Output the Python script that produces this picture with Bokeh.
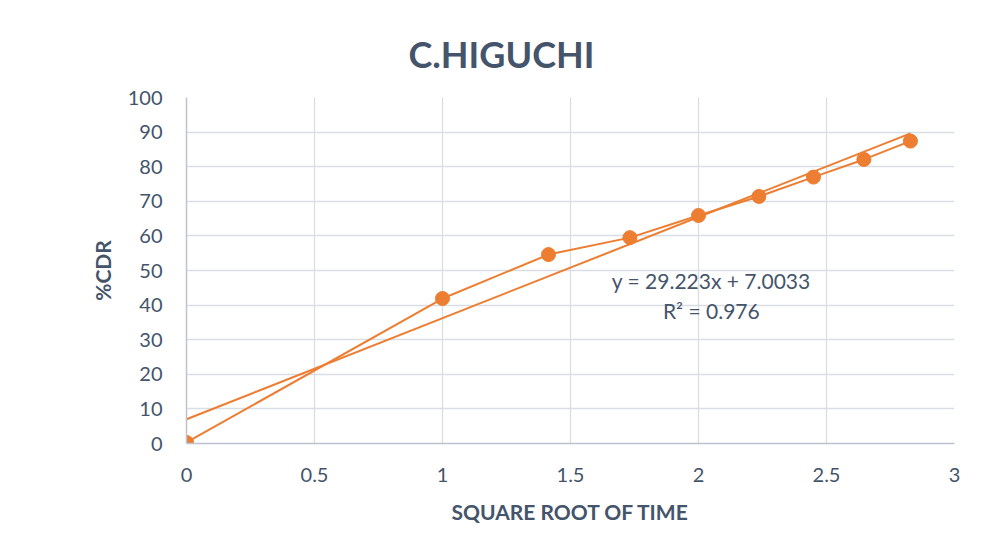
from bokeh.plotting import figure
from bokeh.models import Label, Range1d, FixedTicker, Title
from bokeh.embed import file_html
from bokeh.resources import INLINE

# data
sqrt_time = [0, 1, 1.414, 1.732, 2, 2.236, 2.449, 2.646, 2.828]
cdr = [0.3, 41.9, 54.6, 59.5, 65.9, 71.4, 77.0, 82.1, 87.4]
slope = 29.223
intercept = 7.0033
r2 = 0.976
x_ticks = [0, 0.5, 1, 1.5, 2, 2.5, 3]
y_ticks = [0, 10, 20, 30, 40, 50, 60, 70, 80, 90, 100]

ORANGE = "#ED7D31"
TEXT = "#44546A"
GRID = "#D9DEE6"
FONT = "Lato"

p = figure(width=984, height=538, output_backend="svg", toolbar_location=None,
           x_range=Range1d(0, 3), y_range=Range1d(0, 100),
           min_border_left=186, min_border_right=30,
           min_border_top=97, min_border_bottom=95)
p.outline_line_color = None
p.background_fill_color = "white"
p.border_fill_color = "white"

t = Title(text="C.HIGUCHI", align="left", offset=222, vertical_align="top",
          text_font=FONT, text_font_size="36px", text_font_style="bold",
          text_color=TEXT, standoff=40)
p.add_layout(t, "above")

p.xaxis.ticker = FixedTicker(ticks=x_ticks)
p.yaxis.ticker = FixedTicker(ticks=y_ticks)
p.xaxis.major_label_overrides = {0: "0", 0.5: "0.5", 1: "1", 1.5: "1.5", 2: "2", 2.5: "2.5", 3: "3"}

for ax in (p.xaxis, p.yaxis):
    ax.axis_line_color = "#BCC3CE"
    ax.axis_line_width = 1.5
    ax.major_tick_line_color = None
    ax.minor_tick_line_color = None
    ax.major_label_text_font = FONT
    ax.major_label_text_font_size = "20px"
    ax.major_label_text_color = TEXT
    ax.axis_label_text_font = FONT
    ax.axis_label_text_font_style = "bold"
    ax.axis_label_text_font_size = "21px"
    ax.axis_label_text_color = TEXT

p.xaxis.axis_label = "SQUARE ROOT OF TIME"
p.yaxis.axis_label = "%CDR"
p.xaxis.major_label_standoff = 18
p.yaxis.major_label_standoff = 18
p.xaxis.axis_label_standoff = 14
p.yaxis.axis_label_standoff = 10

p.xgrid.grid_line_color = GRID
p.ygrid.grid_line_color = GRID
p.xgrid.grid_line_width = 1.3
p.ygrid.grid_line_width = 1.3

# trendline from displayed equation
tx = [0, max(sqrt_time)]
ty = [intercept + slope * v for v in tx]
p.line(tx, ty, line_color=ORANGE, line_width=2)

p.line(sqrt_time, cdr, line_color=ORANGE, line_width=2)
p.scatter(sqrt_time, cdr, size=14, fill_color=ORANGE, line_color=ORANGE)

eq1 = Label(x=2.05, y=47.1, text="y = %.3fx + %.4f" % (slope, intercept),
            text_align="center", text_baseline="middle",
            text_font=FONT, text_font_size="21px", text_color=TEXT)
eq2 = Label(x=2.05, y=38.4, text="R² = %.3f" % r2,
            text_align="center", text_baseline="middle",
            text_font=FONT, text_font_size="21px", text_color=TEXT)
p.add_layout(eq1)
p.add_layout(eq2)

open("out.html", "w").write(file_html(p, INLINE))
